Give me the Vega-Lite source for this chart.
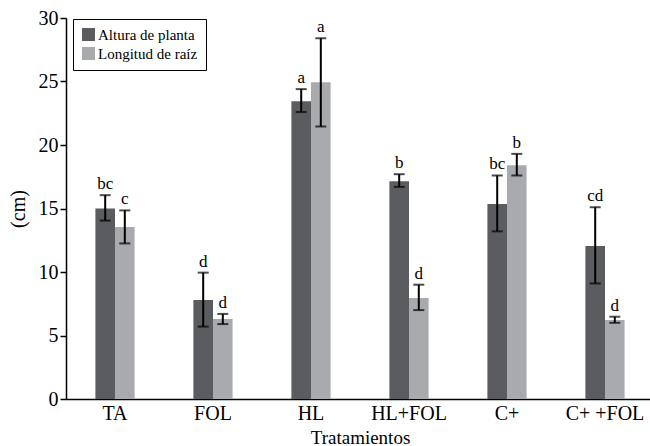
{
  "$schema": "https://vega.github.io/schema/vega-lite/v6.json",
  "autosize": {"type": "none"},
  "padding": {"left": 66, "top": 18, "right": 0, "bottom": 47},
  "width": 584,
  "height": 381,
  "background": "white",
  "config": {
    "view": {"stroke": null},
    "font": "Liberation Serif, Times New Roman, serif",
    "axis": {"grid": false, "domainColor": "black", "tickColor": "black", "labelColor": "black", "titleColor": "black", "labelFont": "Liberation Serif, Times New Roman, serif", "titleFont": "Liberation Serif, Times New Roman, serif", "titleFontWeight": "normal"},
    "legend": {"labelFont": "Liberation Serif, Times New Roman, serif"},
    "text": {"font": "Liberation Serif, Times New Roman, serif"}
  },
  "data": {
    "values": [
      {"trat": "TA", "medida": "Altura de planta", "valor": 15.0, "lo": 14.05, "hi": 16.05, "letra": "bc"},
      {"trat": "TA", "medida": "Longitud de raíz", "valor": 13.55, "lo": 12.25, "hi": 14.85, "letra": "c"},
      {"trat": "FOL", "medida": "Altura de planta", "valor": 7.8, "lo": 5.7, "hi": 9.95, "letra": "d"},
      {"trat": "FOL", "medida": "Longitud de raíz", "valor": 6.3, "lo": 5.9, "hi": 6.7, "letra": "d"},
      {"trat": "HL", "medida": "Altura de planta", "valor": 23.45, "lo": 22.6, "hi": 24.4, "letra": "a"},
      {"trat": "HL", "medida": "Longitud de raíz", "valor": 24.95, "lo": 21.45, "hi": 28.4, "letra": "a"},
      {"trat": "HL+FOL", "medida": "Altura de planta", "valor": 17.15, "lo": 16.7, "hi": 17.7, "letra": "b"},
      {"trat": "HL+FOL", "medida": "Longitud de raíz", "valor": 7.95, "lo": 7.0, "hi": 9.0, "letra": "d"},
      {"trat": "C+", "medida": "Altura de planta", "valor": 15.35, "lo": 13.2, "hi": 17.6, "letra": "bc"},
      {"trat": "C+", "medida": "Longitud de raíz", "valor": 18.4, "lo": 17.6, "hi": 19.3, "letra": "b"},
      {"trat": "C+ +FOL", "medida": "Altura de planta", "valor": 12.05, "lo": 9.1, "hi": 15.1, "letra": "cd"},
      {"trat": "C+ +FOL", "medida": "Longitud de raíz", "valor": 6.22, "lo": 6.0, "hi": 6.48, "letra": "d"}
    ]
  },
  "encoding": {
    "x": {
      "field": "trat", "type": "nominal", "sort": null,
      "scale": {"range": [0, 588], "paddingInner": 0.6, "paddingOuter": 0.3},
      "axis": {"title": "Tratamientos", "labelAngle": 0, "labelFontSize": 20, "titleFontSize": 19, "ticks": false, "labelPadding": 4, "titlePadding": 5, "domainWidth": 1.5}
    },
    "xOffset": {"field": "medida", "type": "nominal", "sort": null, "scale": {"paddingInner": 0, "paddingOuter": 0}}
  },
  "layer": [
    {
      "mark": {"type": "bar"},
      "encoding": {
        "y": {"field": "valor", "type": "quantitative", "scale": {"domain": [0, 30]},
          "axis": {"title": "(cm)", "values": [0, 5, 10, 15, 20, 25, 30], "labelFontSize": 20, "titleFontSize": 20, "tickSize": 6, "tickWidth": 1.5, "domainWidth": 1.5, "labelPadding": 2, "titlePadding": 10}},
        "color": {
          "field": "medida", "type": "nominal", "sort": null,
          "scale": {"domain": ["Altura de planta", "Longitud de raíz"], "range": ["#5b5c60", "#a8aaad"]},
          "legend": {"title": null, "orient": "none", "legendX": 7, "legendY": 1, "symbolType": "square", "symbolSize": 169, "symbolStrokeWidth": 0, "symbolOpacity": 1, "labelFontSize": 15, "labelColor": "black", "labelOffset": 2, "rowPadding": 3, "padding": 8, "strokeColor": "black", "fillColor": "white"}
        }
      }
    },
    {
      "mark": {"type": "rule", "color": "black", "strokeWidth": 2},
      "encoding": {
        "y": {"field": "lo", "type": "quantitative"},
        "y2": {"field": "hi"}
      }
    },
    {
      "mark": {"type": "tick", "color": "black", "size": 11, "thickness": 2},
      "encoding": {"y": {"field": "lo", "type": "quantitative"}}
    },
    {
      "mark": {"type": "tick", "color": "black", "size": 11, "thickness": 2},
      "encoding": {"y": {"field": "hi", "type": "quantitative"}}
    },
    {
      "mark": {"type": "text", "baseline": "bottom", "dy": -2, "fontSize": 17, "color": "black"},
      "encoding": {
        "y": {"field": "hi", "type": "quantitative"},
        "text": {"field": "letra"}
      }
    }
  ]
}
